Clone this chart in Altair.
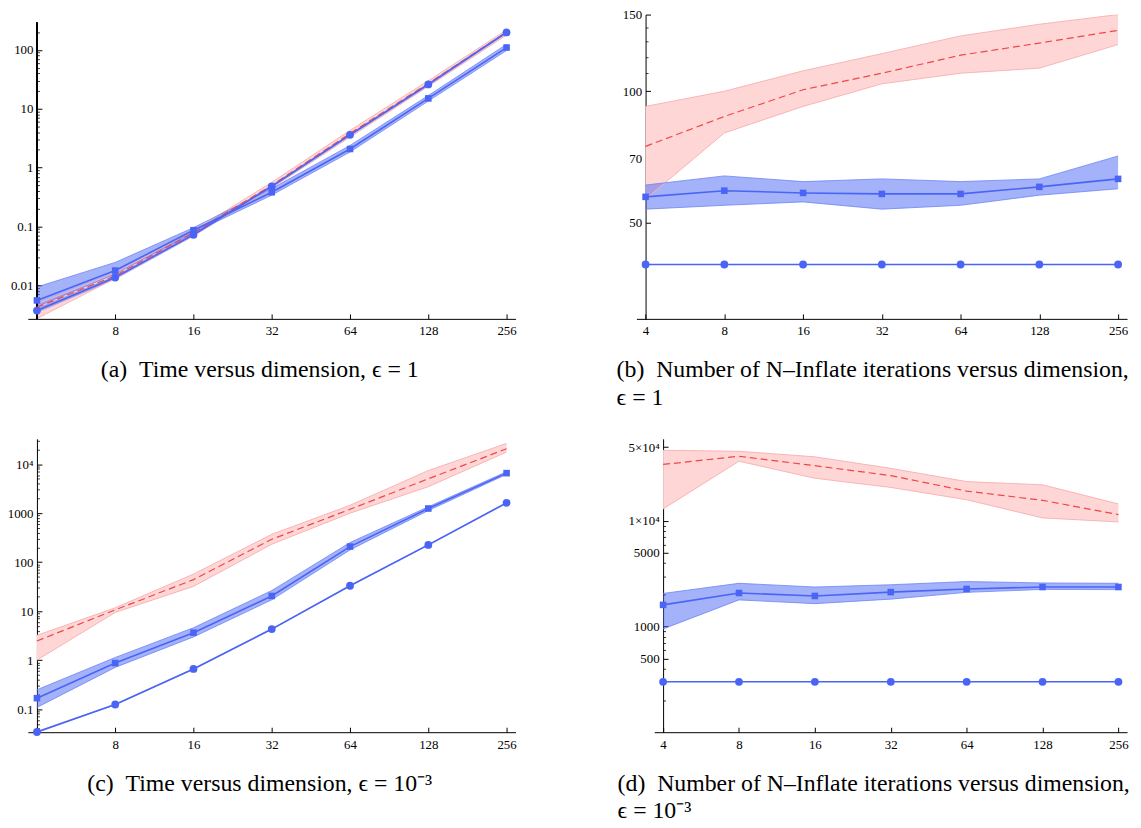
import math
import altair as alt
import pandas as pd

# ---------------- data ----------------
dims = [4, 8, 16, 32, 64, 128, 256]

# (a) time, eps = 1
a_circle = [0.0037, 0.0135, 0.072, 0.48, 3.6, 26, 199]
a_circle_lo = [0.0034, 0.0125, 0.067, 0.45, 3.4, 24.5, 188]
a_circle_hi = [0.0041, 0.0145, 0.077, 0.51, 3.8, 27.5, 210]
a_square = [0.0055, 0.0177, 0.086, 0.38, 2.07, 15, 110]
a_square_lo = [0.0043, 0.0155, 0.078, 0.34, 1.84, 13.5, 98]
a_square_hi = [0.0093, 0.0244, 0.095, 0.44, 2.38, 16.8, 125]
a_red = [0.0042, 0.0145, 0.078, 0.50, 3.8, 27, 200]
a_red_lo = [0.0027, 0.013, 0.070, 0.45, 3.3, 24, 180]
a_red_hi = [0.0048, 0.016, 0.085, 0.56, 4.3, 30, 220]

# (b) iterations, eps = 1
b_circle = [40, 40, 40, 40, 40, 40, 40]
b_square = [57.2, 59.1, 58.4, 58.1, 58.1, 60.3, 62.9]
b_square_lo = [53.6, 54.7, 55.7, 53.6, 54.7, 57.7, 59.7]
b_square_hi = [60.9, 63.9, 62.0, 62.9, 62.0, 62.9, 71.0]
b_red = [74.7, 87.5, 100.8, 110, 121, 129, 138]
b_red_lo = [56.5, 80.2, 92.3, 104, 110, 113, 128]
b_red_hi = [92.3, 100, 111.4, 122, 134, 142.5, 150]

# (c) time, eps = 1e-3
c_circle = [0.034, 0.124, 0.66, 4.3, 33, 225, 1625]
c_circle_lo = [0.0325, 0.119, 0.635, 4.13, 31.7, 216, 1560]
c_circle_hi = [0.0355, 0.129, 0.685, 4.47, 34.3, 234, 1690]
c_square = [0.167, 0.87, 3.63, 20.4, 208, 1245, 6570]
c_square_lo = [0.108, 0.71, 2.97, 17, 178, 1130, 6200]
c_square_hi = [0.248, 1.13, 4.58, 26.3, 251, 1350, 7000]
c_red = [2.46, 10.6, 44, 293, 1200, 5030, 20700]
c_red_lo = [1.0, 9.4, 32, 232, 1000, 3470, 17700]
c_red_hi = [3.2, 11.7, 57, 370, 1450, 7420, 26600]

# (d) iterations, eps = 1e-3
d_circle = [300, 300, 300, 300, 300, 300, 300]
d_square = [1605, 2080, 1950, 2120, 2270, 2370, 2370]
d_square_lo = [950, 1790, 1650, 1820, 2110, 2250, 2240]
d_square_hi = [2060, 2570, 2370, 2490, 2670, 2590, 2570]
d_red = [34300, 41000, 33400, 26900, 19200, 15700, 11500]
d_red_lo = [13000, 36800, 25400, 20800, 15900, 10700, 9800]
d_red_hi = [46700, 45700, 40500, 31500, 23600, 22000, 14500]

# axis ticks / labels
x_label_vals_time = [8, 16, 32, 64, 128, 256]
x_label_vals_iter = [4, 8, 16, 32, 64, 128, 256]

a_yticks = [0.01, 0.1, 1, 10, 100]
a_ylabels = ["0.01", "0.1", "1", "10", "100"]
b_yticks = [50, 70, 100, 150]
b_ylabels = ["50", "70", "100", "150"]
c_yticks = [0.1, 1, 10, 100, 1000, 10000]
c_ylabels = ["0.1", "1", "10", "100", "1000", "10⁴"]
d_yticks = [500, 1000, 5000, 10000, 50000]
d_ylabels = ["500", "1000", "5000", "1×10⁴", "5×10⁴"]

def decade_minors(lo_exp, hi_exp, lo, hi):
    out = []
    for e in range(lo_exp, hi_exp + 1):
        for m in range(2, 10):
            v = m * 10.0 ** e
            if lo <= v <= hi:
                out.append(float(f"{v:.10g}"))
    return out

a_yminor = decade_minors(-3, 2, 0.0027, 290)
b_yminor = [60, 80, 90, 110, 120, 130, 140]
c_yminor = decade_minors(-2, 4, 0.034, 33000)
d_yminor = [200, 300, 400, 600, 700, 800, 900, 2000, 3000, 4000,
            6000, 7000, 8000, 9000, 20000, 30000, 40000]

# ---------------- style ----------------
SERIF = "Liberation Serif"
BLUE = "#4a65f6"
PINK = "#ffd6d6"
PINK_EDGE = "#f8b4b4"
BLUE_EDGE = "#6c84f6"
RED = "#f04646"
XDOM = [3.69, 277]


def panel(circ, circ_lo, circ_hi, sq, sq_lo, sq_hi, red, red_lo, red_hi,
          ydom, yticks, ylabels, yminor, xlabels, W, H, title, yaxis_top=None):
    rows = []
    for s, m, lo, hi in [("circle", circ, circ_lo, circ_hi),
                         ("square", sq, sq_lo, sq_hi),
                         ("red", red, red_lo, red_hi)]:
        for d, a, b, c in zip(dims, m, lo, hi):
            rows.append(dict(dim=d, series=s, mean=a, lo=b, hi=c))
    df = pd.DataFrame(rows)

    px4 = W * math.log(4 / XDOM[0]) / math.log(XDOM[1] / XDOM[0])
    xs = alt.Scale(type="log", base=2, domain=XDOM, nice=False, zero=False)
    ys = alt.Scale(type="log", domain=ydom, nice=False, zero=False)

    lab_expr = "[" + ",".join("'" + t + "'" for t in ylabels) + "][indexof([" + \
        ",".join(repr(v) for v in yticks) + "], datum.value)]"

    ax_x_main = alt.Axis(orient="bottom", values=xlabels, format="d", ticks=False,
                         domain=True, domainColor="black", domainWidth=1,
                         labelFont=SERIF, labelFontSize=13, labelColor="black",
                         labelPadding=6, grid=False, title=None)
    ax_x_ticks = alt.Axis(orient="top", offset=-H, values=dims, ticks=True,
                          tickSize=5, tickColor="black", tickWidth=1,
                          labels=False, domain=False, grid=False, title=None)
    ax_y_main = alt.Axis(orient="left", offset=-px4, values=yticks,
                         labelExpr=lab_expr, ticks=False, domain=yaxis_top is None,
                         domainColor="black", domainWidth=1, labelFont=SERIF,
                         labelFontSize=13, labelColor="black", labelPadding=4,
                         grid=False, title=None)
    ax_y_major = alt.Axis(orient="right", offset=-(W - px4), values=yticks,
                          ticks=True, tickSize=5, tickColor="black", tickWidth=1,
                          labels=False, domain=False, grid=False, title=None)
    ax_y_minor = alt.Axis(orient="right", offset=-(W - px4), values=yminor,
                          ticks=True, tickSize=2.5, tickColor="black", tickWidth=0.8,
                          labels=False, domain=False, grid=False, title=None)

    base = alt.Chart(df)
    red_f = "datum.series == 'red'"
    sq_f = "datum.series == 'square'"
    ci_f = "datum.series == 'circle'"

    def X(axis=None):
        return alt.X("dim:Q", scale=xs, axis=axis)

    def Y(field, axis=None):
        return alt.Y(f"{field}:Q", scale=ys, axis=axis)

    layers = []
    layers.append(base.transform_filter(red_f).mark_area(color=PINK, clip=True).encode(
        x=X(ax_x_main), y=Y("lo", ax_y_main), y2="hi:Q"))
    layers.append(base.transform_filter(sq_f).mark_area(color=BLUE, opacity=0.5, clip=True).encode(
        x=X(ax_x_ticks), y=Y("lo", ax_y_major), y2="hi:Q"))
    layers.append(base.transform_filter(ci_f).mark_area(color=BLUE, opacity=0.5, clip=True).encode(
        x=X(), y=Y("lo"), y2="hi:Q"))
    layers.append(base.transform_filter(red_f).mark_line(color=PINK_EDGE, strokeWidth=1, clip=True).encode(
        x=X(), y=Y("lo", ax_y_minor)))
    layers.append(base.transform_filter(red_f).mark_line(color=PINK_EDGE, strokeWidth=1, clip=True).encode(
        x=X(), y=Y("hi")))
    layers.append(base.transform_filter(sq_f).mark_line(color=BLUE_EDGE, strokeWidth=0.8, clip=True).encode(
        x=X(), y=Y("lo")))
    layers.append(base.transform_filter(sq_f).mark_line(color=BLUE_EDGE, strokeWidth=0.8, clip=True).encode(
        x=X(), y=Y("hi")))
    if yaxis_top is not None:
        layers.append(alt.Chart(df).mark_rule(color="black", strokeWidth=1).encode(
            x=alt.XDatum(4, axis=None),
            y=alt.YDatum(ydom[0], axis=None),
            y2=alt.Y2Datum(yaxis_top)))
    layers.append(base.transform_filter(red_f).mark_line(color=RED, strokeWidth=1.2,
                                                         strokeDash=[7, 4], clip=True).encode(
        x=X(), y=Y("mean")))
    layers.append(base.transform_filter("datum.series != 'red'").mark_line(
        color=BLUE, strokeWidth=1.6, clip=True).encode(
        x=X(), y=Y("mean"), detail="series:N"))
    layers.append(base.transform_filter(ci_f).mark_point(shape="circle", filled=True, size=62,
                                                         color=BLUE, opacity=1).encode(
        x=X(), y=Y("mean")))
    layers.append(base.transform_filter(sq_f).mark_point(shape="square", filled=True, size=44,
                                                         color=BLUE, opacity=1).encode(
        x=X(), y=Y("mean")))

    return alt.layer(*layers).resolve_axis(
        x="independent", y="independent").properties(width=W, height=H, title=title)


def cap(text, anchor, dx):
    return alt.TitleParams(text=text, orient="bottom", anchor=anchor, frame="group",
                           dx=dx, offset=21, font=SERIF, fontSize=24,
                           fontWeight="normal", color="black", lineHeight=28)


pa = panel(a_circle, a_circle_lo, a_circle_hi, a_square, a_square_lo, a_square_hi,
           a_red, a_red_lo, a_red_hi, [0.00267, 400], a_yticks, a_ylabels, a_yminor,
           x_label_vals_time, 492, 307,
           cap("(a)\u2002Time versus dimension, ϵ = 1", "middle", -12), yaxis_top=290)
pb = panel(b_circle, b_circle, b_circle, b_square, b_square_lo, b_square_hi,
           b_red, b_red_lo, b_red_hi, [30, 150], b_yticks, b_ylabels, b_yminor,
           x_label_vals_iter, 495, 307,
           cap(["(b)\u2002Number of N–Inflate iterations versus dimension,", "ϵ = 1"], "start", -20))
pc = panel(c_circle, c_circle_lo, c_circle_hi, c_square, c_square_lo, c_square_hi,
           c_red, c_red_lo, c_red_hi, [0.0337, 33000], c_yticks, c_ylabels, c_yminor,
           x_label_vals_time, 492, 296,
           cap("(c)\u2002Time versus dimension, ϵ = 10⁻³", "middle", -12))
pd_ = panel(d_circle, d_circle, d_circle, d_square, d_square_lo, d_square_hi,
            d_red, d_red_lo, d_red_hi, [100, 60000], d_yticks, d_ylabels, d_yminor,
            x_label_vals_iter, 477, 296,
            cap(["(d)\u2002Number of N–Inflate iterations versus dimension,", "ϵ = 10⁻³"], "start", -37))

row1 = alt.hconcat(pa, pb, spacing=122, bounds="flush")
row2 = alt.hconcat(pc, pd_, spacing=140, bounds="flush")
chart = alt.vconcat(row1, row2, spacing=29).properties(
    padding={"left": -1, "top": -3, "right": 2, "bottom": 0},
    background="white",
).configure_view(stroke=None)

chart.save("out.html", embed_options={"renderer": "svg", "actions": False})
